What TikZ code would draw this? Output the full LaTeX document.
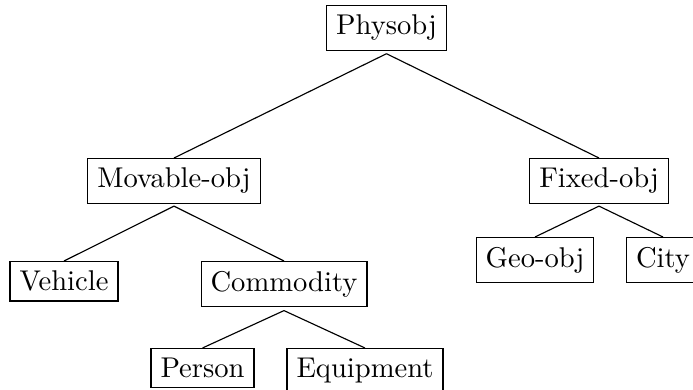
\documentclass[tikz,border=0pt]{standalone}
\begin{document}
\begin{tikzpicture}[x=0.35pt,y=-0.35pt,
  box/.style={draw, inner sep=3.33pt, anchor=north, line width=0.4pt},
  branch/.style={draw, line width=0.4pt}]
\useasboundingbox (0,0) rectangle (693,390);
\clip (0,0) rectangle (693,390);
\node[box] (phys) at (386.5,5) {Physobj};
\node[box] (mov) at (174,158) {Movable-obj};
\node[box] (fix) at (599,158) {Fixed-obj};
\node[box] (veh) at (64,261) {Vehicle};
\node[box] (com) at (284,261) {Commodity};
\node[box] (geo) at (535,237) {Geo-obj};
\node[box] (city) at (663,237) {City};
\node[box] (per) at (202.5,348) {Person};
\node[box] (equ) at (365,348) {Equipment};
\draw[branch] ([yshift=-1pt]phys.south) -- (mov.north);
\draw[branch] ([yshift=-1pt]phys.south) -- (fix.north);
\draw[branch] ([yshift=-0.8pt]mov.south) -- (veh.north);
\draw[branch] ([yshift=-0.8pt]mov.south) -- (com.north);
\draw[branch] ([yshift=-0.8pt]fix.south) -- (geo.north);
\draw[branch] ([yshift=-0.8pt]fix.south) -- (city.north);
\draw[branch] ([yshift=-1.2pt]com.south) -- (per.north);
\draw[branch] ([yshift=-1.2pt]com.south) -- (equ.north);
\end{tikzpicture}
\end{document}
